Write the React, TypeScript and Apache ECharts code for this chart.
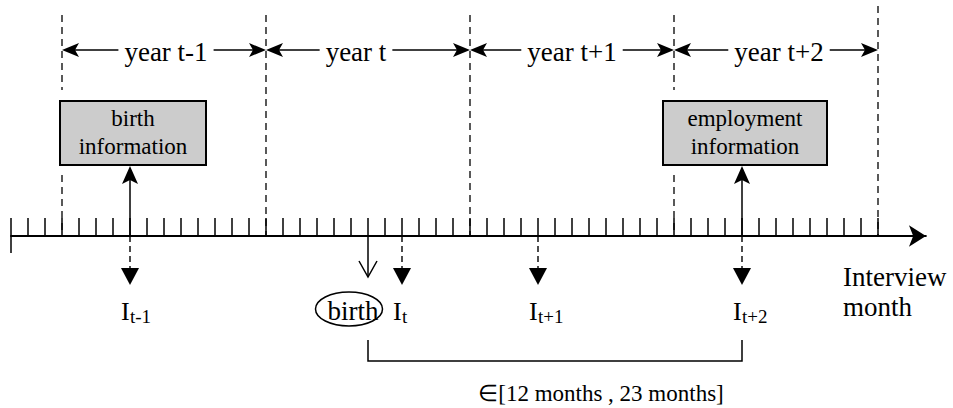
import React, { useEffect, useRef } from "react";
import * as echarts from "echarts";

// ---------------- data ----------------
const axisMonthTicks = Array.from({ length: 51 }, (_, i) => i + 1); // month ticks on the timeline
const axisMaxMonth = 53.82;
const yearBoundaries = [3, 15, 27, 39, 51];
const yearLabels = ["year t-1", "year t", "year t+1", "year t+2"];
const interviewMonths = [7, 23, 31, 43];
const interviewSubs = ["t-1", "t", "t+1", "t+2"];
const birthMonth = 21;
const birthLabel = "birth";
const infoMonths = [7, 43];
const infoLabels = ["birth\ninformation", "employment\ninformation"];
const intervalMonths = [21, 43];
const intervalLabel = "\u2208[12 months , 23 months]";
const axisTitle = "Interview\nmonth";

// ---------------- layout (rows of the hidden y axis) ----------------
const ROW = {
  dashTop: 15,
  dashTopLast: 6,
  yearArrow: 50,
  yearText: 52,
  boxTop: 101,
  boxBottom: 165,
  boxText: 132,
  gapTop: 90,
  gapBottom: 175,
  axis: 236,
  tickTop: 218,
  leftEndBottom: 253,
  downBase: 268,
  downTip: 285,
  birthTip: 277,
  labelMid: 311,
  subMid: 316,
  ellipseCy: 309,
  bracketTop: 340,
  bracketBottom: 361,
  intervalMid: 393,
};
const yearLabelShift = [2, -12, 0, 3];
const boxWidths = [146, 164];
const boxShift = 3;
const PX_PER_MONTH = 17;
const GRID_LEFT = 11;
const SERIF = "'Liberation Serif','Times New Roman',Times,serif";
const INK = "#000";

function head(tx: number, ty: number, dx: number, dy: number, len: number, hw: number, notch: number) {
  const px = -dy;
  const py = dx;
  const bx = tx - dx * len;
  const by = ty - dy * len;
  return {
    type: "polygon",
    shape: {
      points: [
        [tx, ty],
        [bx + px * hw, by + py * hw],
        [tx - dx * (len - notch), ty - dy * (len - notch)],
        [bx - px * hw, by - py * hw],
      ],
    },
    style: { fill: INK, stroke: null },
  };
}

function customSeries(id: string, data: any[], renderItem: any) {
  return {
    type: "custom",
    id,
    data,
    silent: true,
    clip: false,
    coordinateSystem: "cartesian2d",
    renderItem,
  };
}

export default function App() {
  const ref = useRef<HTMLDivElement>(null);
  useEffect(() => {
    if (!ref.current) return;
    const chart = echarts.init(ref.current, null, { renderer: "svg" });
    const rowY = (api: any, r: number) => api.coord([0, r])[1];

    const option: any = {
      animation: false,
      backgroundColor: "#fff",
      grid: {
        left: GRID_LEFT,
        right: 953 - GRID_LEFT - PX_PER_MONTH * axisMaxMonth,
        top: 0,
        height: 236,
      },
      xAxis: {
        type: "value",
        min: 0,
        max: axisMaxMonth,
        axisLine: {
          show: true,
          onZero: false,
          symbol: ["none", "arrow"],
          symbolSize: [16, 17],
          lineStyle: { color: INK, width: 1.8 },
        },
        axisTick: {
          show: true,
          inside: true,
          length: 18,
          customValues: axisMonthTicks,
          lineStyle: { color: INK, width: 1.5 },
        },
        axisLabel: { show: false },
        splitLine: { show: false },
      },
      yAxis: { type: "value", min: 0, max: 236, inverse: true, show: false },
      graphic: [
        {
          type: "text",
          x: 843,
          y: 292,
          style: {
            text: axisTitle,
            fontSize: 27,
            lineHeight: 30,
            fontFamily: SERIF,
            fill: INK,
            align: "left",
            verticalAlign: "middle",
          },
        },
      ],
      series: [
        // left end of the timeline
        customSeries("leftEnd", [[0, 0]], (p: any, api: any) => {
          const x = api.coord([api.value(0), 0])[0];
          return {
            type: "line",
            shape: { x1: x, y1: rowY(api, ROW.tickTop), x2: x, y2: rowY(api, ROW.leftEndBottom) },
            style: { stroke: INK, lineWidth: 1.5 },
          };
        }),
        // dashed year boundaries
        customSeries(
          "bounds",
          yearBoundaries.map((m) => [m, 0]),
          (p: any, api: any) => {
            const i = p.dataIndex;
            const m = api.value(0);
            const x = api.coord([m, 0])[0];
            const y0 = rowY(api, i === yearBoundaries.length - 1 ? ROW.dashTopLast : ROW.dashTop);
            const yA = rowY(api, ROW.axis);
            const covered = infoMonths.some(
              (im, k) => Math.abs(api.coord([im, 0])[0] + boxShift - x) < boxWidths[k] / 2
            );
            const segs = covered
              ? [
                  [y0, rowY(api, ROW.gapTop)],
                  [rowY(api, ROW.gapBottom), yA],
                ]
              : [[y0, yA]];
            return {
              type: "group",
              children: segs.map(([a, b]) => ({
                type: "line",
                shape: { x1: x, y1: a, x2: x, y2: b },
                style: { stroke: INK, lineWidth: 1.3, lineDash: [7, 5] },
              })),
            };
          }
        ),
        // year spans
        customSeries(
          "years",
          yearLabels.map((_, i) => [yearBoundaries[i], yearBoundaries[i + 1]]),
          (p: any, api: any) => {
            const i = p.dataIndex;
            const x1 = api.coord([api.value(0), 0])[0];
            const x2 = api.coord([api.value(1), 0])[0];
            const y = rowY(api, ROW.yearArrow);
            const L = 17, W = 7, N = 4;
            return {
              type: "group",
              children: [
                { type: "line", shape: { x1: x1 + L - N, y1: y, x2: x2 - L + N, y2: y }, style: { stroke: INK, lineWidth: 1.5 } },
                head(x1, y, -1, 0, L, W, N),
                head(x2, y, 1, 0, L, W, N),
                {
                  type: "text",
                  x: (x1 + x2) / 2 + yearLabelShift[i],
                  y: rowY(api, ROW.yearText),
                  style: {
                    text: yearLabels[i],
                    fontSize: 27,
                    fontFamily: SERIF,
                    fill: INK,
                    align: "center",
                    verticalAlign: "middle",
                    backgroundColor: "#fff",
                    padding: [0, 6],
                  },
                },
              ],
            };
          }
        ),
        // info boxes with upward arrows
        customSeries(
          "boxes",
          infoMonths.map((m) => [m, 0]),
          (p: any, api: any) => {
            const k = p.dataIndex;
            const x = api.coord([api.value(0), 0])[0];
            const yT = rowY(api, ROW.boxTop);
            const yB = rowY(api, ROW.boxBottom);
            const yA = rowY(api, ROW.axis);
            const w = boxWidths[k];
            const cx = x + boxShift;
            return {
              type: "group",
              children: [
                { type: "rect", shape: { x: cx - w / 2, y: yT, width: w, height: yB - yT }, style: { fill: "#cccccc", stroke: INK, lineWidth: 2 } },
                {
                  type: "text",
                  x: cx,
                  y: rowY(api, ROW.boxText),
                  style: {
                    text: infoLabels[k],
                    fontSize: 23,
                    lineHeight: 28,
                    fontFamily: SERIF,
                    fill: INK,
                    align: "center",
                    verticalAlign: "middle",
                  },
                },
                { type: "line", shape: { x1: x, y1: yA, x2: x, y2: yB + 15 }, style: { stroke: INK, lineWidth: 1.5 } },
                head(x, yB + 1, 0, -1, 18, 8, 4),
              ],
            };
          }
        ),
        // interview arrows and labels
        customSeries(
          "interviews",
          interviewMonths.map((m) => [m, 0]),
          (p: any, api: any) => {
            const k = p.dataIndex;
            const x = api.coord([api.value(0), 0])[0];
            const yA = rowY(api, ROW.axis);
            const yBase = rowY(api, ROW.downBase);
            const yTip = rowY(api, ROW.downTip);
            return {
              type: "group",
              children: [
                { type: "line", shape: { x1: x, y1: yA, x2: x, y2: yBase }, style: { stroke: INK, lineWidth: 1.4, lineDash: [6, 4] } },
                { type: "polygon", shape: { points: [[x - 9, yBase], [x + 9, yBase], [x, yTip]] }, style: { fill: INK } },
                {
                  type: "text",
                  x: x - 9,
                  y: rowY(api, ROW.labelMid),
                  style: { text: "I", fontSize: 26, fontFamily: SERIF, fill: INK, align: "left", verticalAlign: "middle" },
                },
                {
                  type: "text",
                  x: x,
                  y: rowY(api, ROW.subMid),
                  style: { text: interviewSubs[k], fontSize: 19, fontFamily: SERIF, fill: INK, align: "left", verticalAlign: "middle" },
                },
              ],
            };
          }
        ),
        // birth
        customSeries("birth", [[birthMonth, 0]], (p: any, api: any) => {
          const x = api.coord([api.value(0), 0])[0];
          const yA = rowY(api, ROW.axis);
          const yTip = rowY(api, ROW.birthTip);
          return {
            type: "group",
            children: [
              { type: "line", shape: { x1: x, y1: yA, x2: x, y2: yTip }, style: { stroke: INK, lineWidth: 1.5 } },
              { type: "polyline", shape: { points: [[x - 9, yTip - 16], [x, yTip], [x + 9, yTip - 16]] }, style: { stroke: INK, lineWidth: 1.5, fill: null } },
              { type: "ellipse", shape: { cx: x - 19, cy: rowY(api, ROW.ellipseCy), rx: 33.5, ry: 17 }, style: { stroke: INK, lineWidth: 1.5, fill: null } },
              {
                type: "text",
                x: x - 15,
                y: rowY(api, ROW.labelMid),
                style: { text: birthLabel, fontSize: 27, fontFamily: SERIF, fill: INK, align: "center", verticalAlign: "middle" },
              },
            ],
          };
        }),
        // bracket
        customSeries("bracket", [intervalMonths], (p: any, api: any) => {
          const x1 = api.coord([api.value(0), 0])[0];
          const x2 = api.coord([api.value(1), 0])[0];
          const yT = rowY(api, ROW.bracketTop);
          const yB = rowY(api, ROW.bracketBottom);
          return {
            type: "group",
            children: [
              { type: "polyline", shape: { points: [[x1, yT], [x1, yB], [x2, yB], [x2, yT]] }, style: { stroke: INK, lineWidth: 1.5, fill: null } },
              {
                type: "text",
                x: (x1 + x2) / 2 + 46,
                y: rowY(api, ROW.intervalMid),
                style: { text: intervalLabel, fontSize: 23, fontFamily: SERIF, fill: INK, align: "center", verticalAlign: "middle" },
              },
            ],
          };
        }),
      ],
    };
    chart.setOption(option);
    return () => chart.dispose();
  }, []);
  return (
    <div
      ref={ref}
      style={{ position: "absolute", left: 0, top: 0, width: 953, height: 408, background: "#fff" }}
    />
  );
}
